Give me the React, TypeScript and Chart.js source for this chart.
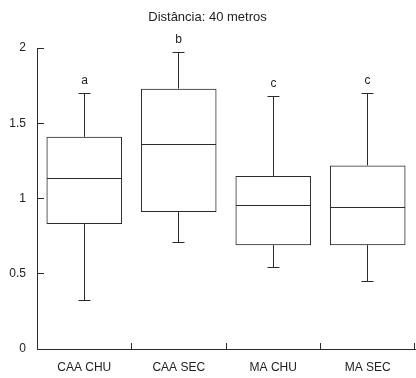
import React, { useEffect, useRef } from 'react';
import { Chart, registerables } from 'chart.js';

Chart.register(...registerables);

const categories = ['CAA CHU', 'CAA SEC', 'MA CHU', 'MA SEC'];
const mins = [0.32, 0.71, 0.54, 0.45];
const q1 = [0.83, 0.91, 0.69, 0.69];
const medians = [1.13, 1.36, 0.955, 0.94];
const q3 = [1.41, 1.73, 1.15, 1.22];
const maxs = [1.7, 1.97, 1.68, 1.7];
const groupLetters = ['a', 'b', 'c', 'c'];
const yTickValues = [0, 0.5, 1, 1.5, 2];
const titleText = 'Distância: 40 metros';

const LINE = '#2a2a2a';
const FONT = "'Liberation Sans', Arial, sans-serif";

const crisp = (v: number) => Math.round(v - 0.5) + 0.5;

const boxPlugin = {
  id: 'boxExtras',
  afterDatasetsDraw(chart: any) {
    const { ctx, scales, chartArea } = chart;
    const x = scales.x;
    const y = scales.y;
    const meta = chart.getDatasetMeta(0);
    ctx.save();
    ctx.strokeStyle = LINE;
    ctx.lineWidth = 1;
    const seg = (x1: number, y1: number, x2: number, y2: number) => {
      ctx.beginPath();
      ctx.moveTo(x1, y1);
      ctx.lineTo(x2, y2);
      ctx.stroke();
    };
    meta.data.forEach((bar: any, i: number) => {
      const cx = crisp(x.getPixelForValue(i));
      const half = bar.width / 2;
      const left = Math.round(cx - half);
      const right = Math.round(cx + half);
      const my = crisp(y.getPixelForValue(medians[i]));
      seg(left, my, right, my);
      const yq3 = y.getPixelForValue(q3[i]);
      const yq1 = y.getPixelForValue(q1[i]);
      const yMax = crisp(y.getPixelForValue(maxs[i]));
      const yMin = crisp(y.getPixelForValue(mins[i]));
      seg(cx, yq3, cx, yMax);
      seg(cx, yq1, cx, yMin);
      const cap = 6;
      seg(cx - cap, yMax, cx + cap, yMax);
      seg(cx - cap, yMin, cx + cap, yMin);
      ctx.fillStyle = '#222';
      ctx.font = `12px ${FONT}`;
      ctx.textAlign = 'center';
      ctx.textBaseline = 'middle';
      ctx.fillText(groupLetters[i], cx, yMax - 13);
    });
    // inward tick marks on y axis
    ctx.strokeStyle = LINE;
    yTickValues.forEach((v) => {
      if (v === 0) return;
      const ty = crisp(y.getPixelForValue(v));
      seg(chartArea.left, ty, chartArea.left + 7, ty);
    });
    // inward tick marks on x axis at category boundaries
    const n = categories.length;
    for (let i = 1; i <= n; i++) {
      const bx =
        i < n
          ? crisp((x.getPixelForValue(i - 1) + x.getPixelForValue(i)) / 2)
          : crisp(chartArea.right - 1);
      seg(bx, chartArea.bottom, bx, chartArea.bottom - 6);
    }
    ctx.restore();
  },
};

export default function App() {
  const ref = useRef<HTMLCanvasElement>(null);
  useEffect(() => {
    document.body.style.margin = '0';
    const canvas = ref.current;
    if (!canvas) return;
    const chart = new Chart(canvas, {
      type: 'bar',
      data: {
        labels: categories,
        datasets: [
          {
            data: q1.map((v, i) => [v, q3[i]]) as any,
            backgroundColor: 'rgba(0,0,0,0)',
            borderColor: LINE,
            borderWidth: 1,
            borderSkipped: false,
            barPercentage: 0.8,
            categoryPercentage: 1,
          },
        ],
      },
      options: {
        responsive: false,
        animation: false,
        devicePixelRatio: 1,
        layout: { padding: { left: 0, right: 1, top: 0, bottom: 0 } },
        plugins: {
          legend: { display: false },
          tooltip: { enabled: false },
          title: {
            display: true,
            text: titleText,
            color: '#222',
            font: { family: FONT, size: 13, weight: 'normal' },
            padding: { top: 10, bottom: 22.4 },
          },
        },
        scales: {
          x: {
            grid: { display: false, drawTicks: false },
            border: { display: true, color: LINE, width: 1 },
            ticks: {
              color: '#222',
              font: { family: FONT, size: 12 },
              padding: 11,
              maxRotation: 0,
            },
            afterFit: (s: any) => {
              s.height = 29;
            },
          },
          y: {
            min: 0,
            max: 2,
            grid: { display: false, drawTicks: false },
            border: { display: true, color: LINE, width: 1 },
            ticks: {
              stepSize: 0.5,
              color: '#222',
              font: { family: FONT, size: 12 },
              padding: 11,
              callback: (v: any) => String(v),
            },
            afterFit: (s: any) => {
              s.width = 37;
            },
          },
        },
      },
      plugins: [boxPlugin],
    });
    return () => chart.destroy();
  }, []);
  return (
    <div style={{ width: 416, height: 378, background: '#fff' }}>
      <canvas ref={ref} width={416} height={378} style={{ display: 'block' }} />
    </div>
  );
}
